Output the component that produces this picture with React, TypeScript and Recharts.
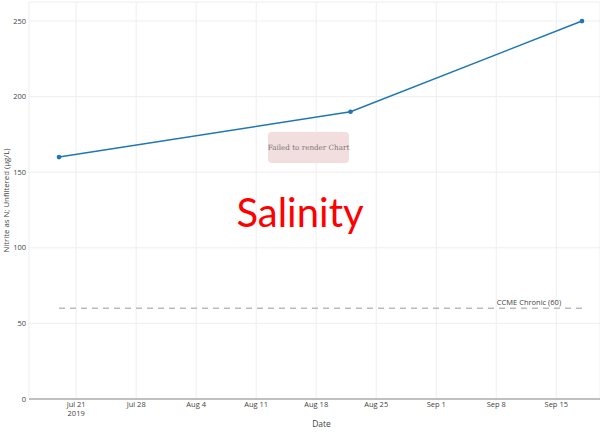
import React from "react";
import {
  CartesianGrid,
  Label,
  Line,
  LineChart,
  ReferenceLine,
  XAxis,
  YAxis,
} from "recharts";

const DAY = 86400000;
const day = (m: number, d: number) => Date.UTC(2019, m, d);

const sampleDates = [day(6, 19), day(6, 19 + 34), day(6, 19 + 61)];
const sampleValues = [160, 190, 250];
const guideline = 60;
const guidelineLabel = "CCME Chronic (60)";

const xTicks = [
  day(6, 21),
  day(6, 28),
  day(7, 4),
  day(7, 11),
  day(7, 18),
  day(7, 25),
  day(8, 1),
  day(8, 8),
  day(8, 15),
];
const yTicks = [0, 50, 100, 150, 200, 250];
const MONTHS = ["Jan", "Feb", "Mar", "Apr", "May", "Jun", "Jul", "Aug", "Sep", "Oct", "Nov", "Dec"];

const FONT = "'Open Sans', sans-serif";
const LINE = "#1f77b4";
const TXT = "#444";

const data = sampleDates.map((t, i) => ({ t, value: sampleValues[i] }));

function DateTick(props: any) {
  const { x, y, payload, index } = props;
  const d = new Date(payload.value);
  const txt = `${MONTHS[d.getUTCMonth()]} ${d.getUTCDate()}`;
  return (
    <g>
      <text x={x} y={y + 5.5} textAnchor="middle" fontSize={7.5} fill={TXT} fontFamily={FONT}>
        {txt}
      </text>
      {index === 0 && (
        <text x={x} y={y + 14.5} textAnchor="middle" fontSize={7.5} fill={TXT} fontFamily={FONT}>
          2019
        </text>
      )}
    </g>
  );
}

function GuideLabel(props: any) {
  const { viewBox } = props;
  return (
    <text
      x={viewBox.x + viewBox.width - 53}
      y={viewBox.y - 3}
      textAnchor="middle"
      fontSize={7.5}
      fill={TXT}
      fontFamily={FONT}
    >
      {guidelineLabel}
    </text>
  );
}

export default function App() {
  return (
    <div style={{ position: "absolute", left: 0, top: 0, width: 600, height: 436, background: "#fff" }}>
      <LineChart width={600} height={436} data={data} margin={{ top: 2, right: 0, bottom: 0, left: 0 }}>
        <CartesianGrid stroke="#eee" />
        <XAxis
          dataKey="t"
          type="number"
          scale="time"
          domain={[day(6, 21) - 5.5 * DAY, day(6, 21) + 61.1 * DAY]}
          ticks={xTicks}
          interval={0}
          tick={<DateTick />}
          tickLine={false}
          tickSize={0}
          tickMargin={2}
          axisLine={{ stroke: "#888" }}
          height={37}
          allowDataOverflow
        >
          <Label value="Date" position="insideBottom" offset={9} dx={7} fontSize={8.5} fill={TXT} fontFamily={FONT} />
        </XAxis>
        <YAxis
          type="number"
          domain={[0, 262.6]}
          ticks={yTicks}
          width={29}
          tickLine={false}
          tickSize={0}
          axisLine={false}
          tick={{ fontSize: 7.5, fill: TXT, fontFamily: FONT }}
          tickMargin={3}
        >
          <Label
            value="Nitrite as N; Unfiltered (µg/L)"
            angle={-90}
            position="insideLeft"
            offset={0}
            dx={6}
            fontSize={7.8}
            fill={TXT}
            fontFamily={FONT}
            style={{ textAnchor: "middle" }}
          />
        </YAxis>
        <ReferenceLine
          segment={[
            { x: sampleDates[0], y: guideline },
            { x: sampleDates[2], y: guideline },
          ]}
          stroke="#bbb"
          strokeDasharray="6 5"
          strokeWidth={1.5}
          label={<GuideLabel />}
        />
        <Line
          dataKey="value"
          stroke={LINE}
          strokeWidth={1.5}
          dot={{ r: 1.6, fill: LINE, stroke: LINE }}
          isAnimationActive={false}
        />
      </LineChart>
      <div
        style={{
          position: "absolute",
          left: 268,
          top: 132,
          width: 81,
          height: 31,
          background: "#f2dede",
          borderRadius: 4,
          display: "flex",
          alignItems: "center",
          justifyContent: "center",
          fontFamily: "'DejaVu Serif', serif",
          fontSize: 7.2,
          color: "#777",
          whiteSpace: "nowrap",
        }}
      >
        Failed to render Chart
      </div>
      <div
        style={{
          position: "absolute",
          left: 0,
          width: 600,
          top: 188,
          textAlign: "center",
          color: "red",
          fontFamily: "Lato, sans-serif",
          fontSize: 40,
          lineHeight: "48px",
        }}
      >
        Salinity
      </div>
    </div>
  );
}
